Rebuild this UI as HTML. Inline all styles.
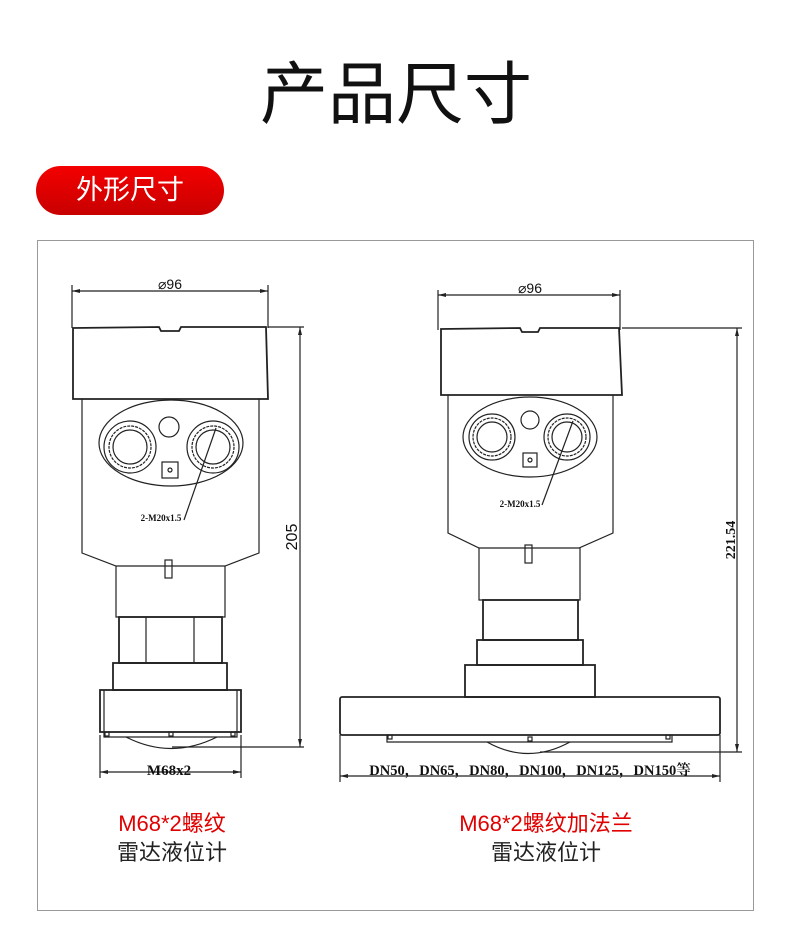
<!DOCTYPE html>
<html><head><meta charset="utf-8"><style>
body{margin:0;background:#fff;width:790px;height:943px;overflow:hidden;font-family:"Liberation Sans","Noto Sans CJK SC",sans-serif}
</style></head><body>
<svg width="790" height="943" viewBox="0 0 790 943" xmlns="http://www.w3.org/2000/svg">
<defs><linearGradient id="rg" x1="0" y1="0" x2="0" y2="1"><stop offset="0" stop-color="#f40000"/><stop offset="1" stop-color="#c80000"/></linearGradient></defs>
<text x="396" y="118" text-anchor="middle" font-family="Noto Sans CJK SC,sans-serif" font-size="68" font-weight="400" fill="#111">产品尺寸</text>
<rect x="36" y="166" width="188" height="49" rx="24.5" fill="url(#rg)"/>
<text x="130" y="199" text-anchor="middle" font-family="Noto Sans CJK SC,sans-serif" font-size="27" fill="#fff">外形尺寸</text>
<rect x="37.5" y="240.5" width="716" height="670" fill="none" stroke="#999" stroke-width="1"/>

<g fill="none" stroke="#222" stroke-width="1.2">
<!-- LEFT -->
<line x1="72" y1="291" x2="268" y2="291"/><line x1="72" y1="285" x2="72" y2="328"/><line x1="268" y1="285" x2="268" y2="328"/>
<path d="M73 328 L159 327 L161 331 L179 331 L181 327 L266 327 L268 399 L73 399 Z" stroke-width="1.8"/>
<path d="M82 399 L82 553 L116 566 L225 566 L259 553 L259 399"/>
<ellipse cx="171" cy="443" rx="72" ry="43"/>
<circle cx="130" cy="447" r="26"/><circle cx="130" cy="447" r="21" stroke-dasharray="3 1"/><circle cx="130" cy="447" r="17"/>
<circle cx="213" cy="447" r="26"/><circle cx="213" cy="447" r="21" stroke-dasharray="3 1"/><circle cx="213" cy="447" r="17"/>
<circle cx="169" cy="427" r="10"/>
<rect x="162" y="462" width="16" height="16"/><circle cx="170" cy="470" r="2"/>
<line x1="216" y1="428" x2="184" y2="520"/>
<rect x="165" y="560" width="7" height="18"/>
<path d="M116 566 L116 617 L225 617 L225 566"/>
<rect x="119" y="617" width="103" height="46" stroke-width="1.8"/>
<line x1="146" y1="617" x2="146" y2="663"/><line x1="194" y1="617" x2="194" y2="663"/>
<rect x="113" y="663" width="114" height="27" stroke-width="1.8"/>
<rect x="100" y="690" width="141" height="42" stroke-width="1.8"/><line x1="104" y1="690" x2="104" y2="732"/><line x1="237" y1="690" x2="237" y2="732"/>
<path d="M104 732 L104 737 L237 737 L237 732"/><rect x="105" y="732" width="4" height="4"/><rect x="231" y="732" width="4" height="4"/><rect x="169" y="732" width="4" height="4"/>
<path d="M126 737 Q171 760 217 737"/>
<line x1="268" y1="327" x2="304" y2="327"/><line x1="172" y1="747" x2="304" y2="747"/>
<line x1="300" y1="327" x2="300" y2="747"/>
<line x1="100" y1="735" x2="100" y2="778"/><line x1="241" y1="735" x2="241" y2="778"/><line x1="100" y1="772" x2="241" y2="772"/>

<!-- RIGHT -->
<line x1="438" y1="295" x2="620" y2="295"/><line x1="438" y1="290" x2="438" y2="330"/><line x1="620" y1="290" x2="620" y2="330"/>
<path d="M441 329 L520 328 L522 332 L538 332 L540 328 L619 328 L622 395 L441 395 Z" stroke-width="1.8"/>
<path d="M448 395 L448 533 L479 548 L579 548 L613 533 L613 395"/>
<ellipse cx="530" cy="437" rx="67" ry="40"/>
<circle cx="492" cy="437" r="23"/><circle cx="492" cy="437" r="19" stroke-dasharray="3 1"/><circle cx="492" cy="437" r="15"/>
<circle cx="567" cy="437" r="23"/><circle cx="567" cy="437" r="19" stroke-dasharray="3 1"/><circle cx="567" cy="437" r="15"/>
<circle cx="530" cy="420" r="9"/>
<rect x="523" y="453" width="14" height="14"/><circle cx="530" cy="460" r="2"/>
<line x1="573" y1="421" x2="542" y2="505"/>
<rect x="525" y="545" width="7" height="18"/>
<path d="M479 548 L479 600 L580 600 L580 548"/>
<rect x="483" y="600" width="95" height="40" stroke-width="1.8"/>
<rect x="477" y="640" width="106" height="25" stroke-width="1.8"/>
<rect x="465" y="665" width="130" height="32" stroke-width="1.8"/>
<rect x="340" y="697" width="380" height="38" rx="2" stroke-width="1.8"/>
<path d="M387 735 L387 742 L672 742 L672 735"/><rect x="388" y="735" width="4" height="4"/><rect x="666" y="735" width="4" height="4"/><rect x="528" y="737" width="4" height="4"/>
<path d="M487 742 Q528 765 570 742"/>
<line x1="622" y1="328" x2="742" y2="328"/><line x1="540" y1="752" x2="742" y2="752"/>
<line x1="737" y1="328" x2="737" y2="752"/>
<line x1="340" y1="735" x2="340" y2="782"/><line x1="720" y1="735" x2="720" y2="782"/><line x1="340" y1="776" x2="720" y2="776"/>
</g>
<g fill="#222">
<path d="M72 291 l8 -2 v4z M268 291 l-8 -2 v4z M300 327 l-2 8 h4z M300 747 l-2 -8 h4z M100 772 l8 -2 v4z M241 772 l-8 -2 v4z"/>
<path d="M438 295 l8 -2 v4z M620 295 l-8 -2 v4z M737 328 l-2 8 h4z M737 752 l-2 -8 h4z M340 776 l8 -2 v4z M720 776 l-8 -2 v4z"/>
</g>
<g font-family="Liberation Sans,sans-serif" fill="#111">
<text x="170" y="289" text-anchor="middle" font-size="14">⌀96</text>
<text x="530" y="293" text-anchor="middle" font-size="14">⌀96</text>
<text transform="translate(297 537) rotate(-90)" text-anchor="middle" font-size="16">205</text>
<text transform="translate(735 540) rotate(-90)" text-anchor="middle" font-size="14" font-family="Liberation Serif,serif" font-weight="bold">221.54</text>
</g>
<g font-family="Liberation Serif,'Noto Serif CJK SC',serif" fill="#111" font-weight="bold">
<text x="161" y="521" text-anchor="middle" font-size="9">2-M20x1.5</text>
<text x="520" y="507" text-anchor="middle" font-size="9">2-M20x1.5</text>
<text x="169" y="775" text-anchor="middle" font-size="15">M68x2</text>
<text x="530" y="775" text-anchor="middle" font-size="14.5">DN50，DN65，DN80，DN100，DN125，DN150等</text>
</g>
<g font-family="'Liberation Sans','Noto Sans CJK SC',sans-serif" font-size="22" text-anchor="middle">
<text x="172" y="831" fill="#e00000">M68*2螺纹</text>
<text x="172" y="860" fill="#222">雷达液位计</text>
<text x="546" y="831" fill="#e00000">M68*2螺纹加法兰</text>
<text x="546" y="860" fill="#222">雷达液位计</text>
</g>
</svg>
</body></html>
